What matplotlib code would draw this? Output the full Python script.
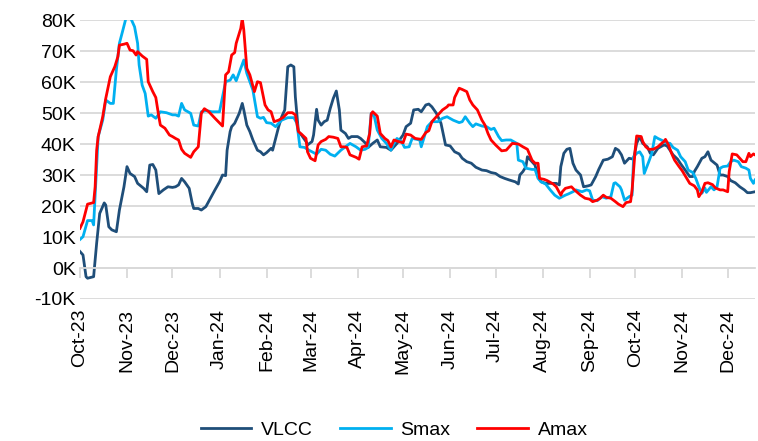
import pandas as pd
import matplotlib
matplotlib.use('Agg')
import matplotlib.pyplot as plt
import matplotlib.dates as mdates
from matplotlib.ticker import FuncFormatter, MultipleLocator

# values in thousands ($/day), x = days since 1 Oct 2023
start = pd.Timestamp('2023-10-01')
end_day = 445

vlcc_days = [0, 2, 4, 5, 9, 11, 13, 16, 17, 19, 21, 24, 26, 29, 31, 33, 36, 38, 42, 44, 46, 48, 50, 52, 55, 58, 61,
             63, 65, 67, 69, 72, 74, 75, 78, 80, 83, 86, 89, 92, 94, 96, 97, 99, 100, 102, 105, 107, 108, 110, 112,
             114, 117, 119, 121, 123, 126,
             127, 129, 131, 133, 135, 137, 139, 141, 142, 144, 146, 149, 150, 153, 154, 156, 157, 159, 161, 163, 165,
             167, 169, 171, 172, 175, 177, 179, 183, 185, 188, 190,
             193, 196, 198, 202, 205, 207, 209, 213, 215, 218, 220, 223, 225, 228, 230, 232, 235, 238, 241, 244, 247,
             250, 252, 255,
             258, 261, 265, 268, 271, 274, 277, 280, 283, 287, 289, 290, 292, 294, 295, 298, 300, 302, 304, 307, 311,
             314, 316, 317, 319,
             321, 323, 325, 327, 330, 332, 335, 337, 340, 342, 345, 348, 351, 353, 355, 357, 359, 362, 365, 367, 369,
             371, 374, 376, 378, 381,
             385, 387, 389, 391, 394, 396, 399, 402, 404, 405, 407, 410, 412, 414, 416, 418, 420, 422, 424, 427, 429,
             432, 435, 438, 440, 442, 445]
vlcc = [5.3, 4.2, -2.8, -3.3, -2.8, 8, 17.6, 21, 20.3, 13.3, 12.3, 11.7, 18.7, 26.2, 32.7, 30.5, 29.5, 27.3, 25.7,
        24.6, 33.2, 33.4, 31.6, 24, 25.2, 26.2, 26,
        26.2, 26.8, 28.9, 27.8, 25.7, 20.9, 19.2, 19.2, 18.7, 19.8, 22.5, 25.2, 27.8, 30, 29.8, 38, 44, 45.6, 46.7,
        49.9, 53.1, 51, 46.1, 44, 41.3, 38, 37.5, 36.5, 37.2, 38.6,
        38, 41.8, 45.6, 48.8, 51, 64.9, 65.5, 64.9, 55.2, 44, 42.9, 40.8, 39.7, 40.8, 42.9, 51.2, 47.7, 46.1, 47.2,
        47.7, 51.5, 54.7, 57.1, 51, 44.5, 43.4, 41.8, 42.4, 42.4, 41.8, 40.4, 38.9,
        40.2, 41.3, 39.1, 38.9, 38, 39.1, 40.2, 42.9, 45.6, 46.7, 51, 51.2, 50.4, 52.6, 52.9, 52, 49.9, 46.7, 39.7,
        39.4, 37.5, 36.8, 35.4, 34.3,
        33.8, 32.5, 31.6, 31.4, 30.8, 30.5, 29.5, 28.9, 28.4, 27.8, 27.1, 30, 31.1, 32.7, 35.9, 34.3, 33.2, 29.5,
        27.8, 27.3, 27.3, 27.3, 26.8, 32.7, 37,
        38.3, 38.6, 33.8, 31.6, 30, 26.2, 26.5, 26.8, 29.5, 31.8, 34.8, 35.1, 35.9, 38.6, 38, 36.5, 33.8, 35.4,
        35.1, 40.2, 42.4, 40.2, 39.1, 37, 36.5, 38.6,
        39.7, 39.4, 38, 36.5, 35.1, 33.6, 31.6, 29.5, 29.5, 31.1, 32.7, 35.4, 35.9, 37.5, 34.8, 34, 33.2, 30, 30,
        29.5, 28.2, 27.5, 26.2, 25.2, 24.3, 24.3, 24.6]

smax_days = [0, 2, 5, 8, 9, 11, 12, 15, 17, 20, 22, 24, 26, 28, 31, 32, 34, 36, 38, 39, 41, 43, 45, 47, 50, 53, 57,
             61,
             63, 65, 67, 69, 73, 75, 78, 80, 83, 87, 92, 96, 99, 101, 103, 106, 108, 110, 112, 114, 117, 119, 121,
             123, 126,
             129, 131, 133, 137, 141, 143, 145, 148, 151, 154, 156, 159, 162, 165, 168, 172, 175, 178, 182, 185, 188,
             190, 192,
             194, 196, 199, 202, 205, 207, 209, 212, 214, 217, 219, 224, 225, 227, 229, 232, 236, 239, 242, 246, 250,
             252, 254,
             257, 259, 261, 265, 268, 271, 273, 276, 278, 281, 284, 288, 289, 292, 294, 298, 300, 302, 304, 307, 310,
             313, 316, 318,
             320, 322, 325, 327, 331, 334, 336, 338, 341, 344, 347, 350, 352, 353, 356, 357, 359, 362, 364, 365, 367,
             369, 371, 372, 375, 377, 379, 381,
             384, 386, 389, 391, 394, 396, 399, 401, 404, 406, 408, 410, 412, 413, 416, 418, 420, 422, 424, 427, 429,
             431, 434, 436, 439, 441, 442, 444, 445]
smax = [9.2, 10.1, 15.3, 15.3, 13.9, 32.7, 42.4, 47.7, 54.2, 53.1, 53.1, 63.9, 72.5, 76.2, 81.9, 82.2, 80, 77.8,
        72.5, 65.5, 59, 56.3, 49, 49.4, 48.3, 50.4, 50.1, 49.4,
        49.4, 49, 53.1, 51, 49.9, 46.1, 45.8, 50.4, 50.8, 50.4, 50.4, 60.1, 60.6, 62.3, 60.4, 64.4, 67.1, 62.8, 60.1,
        57.4, 48.8, 48.3, 48.6, 46.9, 46.7,
        45.6, 46.7, 47.7, 48.5, 48.5, 46.7, 39.1, 38.9, 38, 37.2, 36.7, 38.3, 38, 36.7, 36.1, 38, 39.1, 40.2, 39.1,
        38, 38.3, 38.9, 49.9,
        49, 44.5, 41.8, 40.2, 38, 40.2, 41.8, 40.8, 38.9, 39.1, 41.8, 41.3, 39.1, 42.4, 45.6, 47.2, 47.2, 48.3, 48.8,
        47.7, 46.9, 47.2, 48.8,
        46.7, 45.6, 46.5, 45.8, 45.6, 44.7, 45.1, 42.4, 41.1, 41.3, 41.3, 40.2, 34.8, 34.3, 32.2, 31.8, 31.8, 28.9,
        27.8, 27.1, 25.2, 23.5, 22.5, 23,
        23.5, 23.9, 24.6, 25.2, 24.6, 25.2, 24.9, 21.9, 21.7, 23, 22.5, 23, 27.3, 27.5, 26.2, 25.2, 21.9, 23, 23.5,
        35.9, 37, 37.5, 35.9, 30.5, 34.3, 37, 42.4, 41.8,
        41.1, 40.5, 40.2, 38.9, 38, 35.9, 34.3, 31.6, 30.8, 28.9, 26.2, 24.1, 25.8, 24.4, 26.2, 25.2, 26.2, 32.2,
        32.7, 32.9, 34.3, 34.8, 34.3, 32.7, 32.2, 31.6, 28.9, 27.3, 28.4]

amax_days = [0, 2, 5, 9, 10, 11, 12, 15, 17, 20, 23, 25, 26, 29, 31, 33, 35, 37, 38, 41, 44, 45, 48, 50, 52, 53, 56,
             59, 61,
             63, 65, 67, 69, 73, 75, 78, 80, 82, 85, 89, 94, 96, 98, 100, 102, 103, 106, 107, 108, 110, 112, 115, 117,
             119, 122, 124, 126,
             128, 131, 134, 137, 140, 142, 144, 146, 149, 150, 152, 155, 157, 159, 162, 164, 167, 170, 172, 174, 176,
             178, 182, 184, 186, 189, 191, 192,
             193, 196, 198, 201, 203, 205, 207, 210, 213, 215, 218, 221, 225, 228, 230, 232, 236, 239, 242, 243, 246,
             247, 250, 252, 255,
             257, 259, 262, 265, 267, 269, 271, 274, 278, 281, 283, 285, 289, 292, 295, 298, 300, 302, 303, 306, 308,
             312, 314, 317, 318,
             320, 324, 326, 330, 333, 336, 338, 341, 343, 345, 347, 350, 353, 355, 358, 360, 363, 364, 366, 367, 370,
             371, 373, 375, 378, 381, 383,
             385, 386, 388, 390, 392, 395, 397, 400, 402, 405, 407, 408, 410, 412, 414, 417, 419, 422, 424, 427, 428,
             430, 433, 435, 437, 439, 441, 442, 444, 445]
amax = [12.8, 14.9, 20.6, 21.1, 26.2, 38, 42.4, 48.8, 54.7, 61.7, 65, 68.2, 71.9, 72.2, 72.5, 70.3, 70.1, 68.7,
        69.8, 68.4, 67.3, 60.1, 56.9, 55, 48.8, 46.1, 45.1, 42.9, 42.4,
        41.8, 41.3, 38.3, 37, 35.7, 37.5, 39.1, 49.9, 51.4, 50.4, 48.3, 45.8, 62.3, 63.3, 68.7, 69.5, 72.5, 77.3,
        80.5, 76.8, 64.4, 62.3, 56.9, 60.1, 59.8, 52.6, 51, 50.4,
        47.2, 47.7, 48.6, 50.1, 50.1, 49.4, 44, 43.2, 41.8, 37.5, 35.4, 34.6, 39.7, 40.8, 41.5, 42.4, 42.2, 41.8,
        39.1, 39.1, 38.9, 36.5, 35.7, 35.1, 39.1, 39.4, 43.4, 49.7,
        50.4, 49, 43.4, 41.8, 41.1, 39.1, 41.3, 40.8, 40.4, 43.2, 42.9, 41.8, 41.5, 43.7, 44.3, 47.2, 49.4, 51, 52,
        52.6, 52.6, 55, 58, 57.6, 56.9,
        54.2, 52.6, 51, 47.7, 46.1, 43.4, 41.3, 39.7, 37.8, 38, 39.1, 40.2, 40, 39.1, 38.3, 34.8, 33.8, 33.8, 28.9,
        28.6, 28.2, 27.1, 26.2, 23.5, 24.6,
        25.7, 26.2, 25.2, 23.5, 22.5, 22.2, 21.4, 21.9, 22.5, 23.5, 22.8, 22.5, 21.4, 20.6, 19.8, 21.1, 21.4, 25.2,
        38, 42.6, 42.4, 40.8, 39.1, 38.3, 38.3, 39.1, 40,
        40.8, 41.5, 39.7, 37, 34.8, 32.7, 31.4, 28.9, 27.3, 26.5, 25.2, 23, 24.6, 27.3, 27.5, 26.9, 25.8, 25.2, 25.2,
        24.6, 31.1, 36.8, 36.5, 35.4, 34.3, 34.3, 37, 35.9, 36.8, 36.5]

months = pd.date_range('2023-10-01', '2024-12-01', freq='MS')


def to_dates(days):
    return start + pd.to_timedelta(days, unit='D')


plt.rcParams['font.family'] = ['Liberation Sans', 'DejaVu Sans']

fig = plt.figure(figsize=(7.58, 4.41), dpi=100)
ax = fig.add_axes([0.1055, 0.322, 0.8905, 0.6326])

ax.plot(to_dates(vlcc_days), vlcc, color='#1F4E79', lw=2.0, label='VLCC')
ax.plot(to_dates(smax_days), smax, color='#00B0F0', lw=2.0, label='Smax')
ax.plot(to_dates(amax_days), amax, color='#FF0000', lw=2.0, label='Amax')

ax.set_ylim(-10, 80)
ax.set_xlim(start, start + pd.Timedelta(days=end_day))
ax.yaxis.set_major_locator(MultipleLocator(10))
ax.yaxis.set_major_formatter(FuncFormatter(lambda v, p: f'{v:.0f}K'))
ax.grid(axis='y', color='#D9D9D9', lw=1.3)
ax.set_axisbelow(True)
for s in ['top', 'right', 'left']:
    ax.spines[s].set_visible(False)
ax.spines['bottom'].set_position(('data', 0))
ax.spines['bottom'].set_color('#D9D9D9')
ax.spines['bottom'].set_linewidth(1.3)

ax.set_xticks(mdates.date2num(months))
ax.tick_params(axis='x', direction='out', length=7, width=1.3, color='#D9D9D9', labelbottom=False)
ax.tick_params(axis='y', length=0, labelsize=14, pad=3)
for m in months:
    ax.text(mdates.date2num(m), -0.035, m.strftime('%b-%y'), transform=ax.get_xaxis_transform(),
            rotation=90, ha='center', va='top', fontsize=14)

fig.legend(loc='lower center', bbox_to_anchor=(0.52, -0.035), ncol=3, frameon=False, fontsize=14,
           handlelength=2.6, handletextpad=0.5, columnspacing=1.4)

fig.savefig('out.png', dpi=100)
